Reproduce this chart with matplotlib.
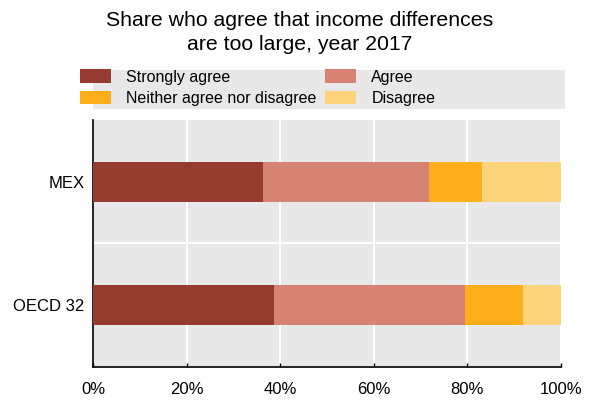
import matplotlib
matplotlib.use("Agg")
import matplotlib.pyplot as plt
from matplotlib.patches import Rectangle
import numpy as np

plt.rcParams['font.family'] = ['Liberation Sans', 'DejaVu Sans']

countries = ["MEX", "OECD 32"]
series_names = ["Strongly agree", "Agree", "Neither agree nor disagree", "Disagree"]
strongly_agree = [36.4, 38.6]
agree = [35.4, 40.8]
neither = [11.4, 12.4]
disagree = [16.8, 8.2]
colors = ["#953B2F", "#D68373", "#FCAF1A", "#FDD47C"]
xtick_vals = [0, 20, 40, 60, 80, 100]
xtick_labels = ["0%", "20%", "40%", "60%", "80%", "100%"]

fig = plt.figure(figsize=(5.93, 4.01), dpi=100)
W, H = 593, 401
ax = fig.add_axes([93 / W, 1 - 367 / H, (561 - 93) / W, (367 - 120) / H])
ax.set_facecolor("#E8E8E8")

y = np.arange(len(countries))
left = np.zeros(len(countries))
handles = []
for vals, c, name in zip([strongly_agree, agree, neither, disagree], colors, series_names):
    b = ax.barh(y, vals, left=left, height=0.325, color=c, label=name, zorder=3)
    handles.append(b)
    left = left + np.array(vals)

ax.set_xlim(0, 100)
ax.set_ylim(1.5, -0.5)
ax.set_yticks(y)
ax.set_yticklabels(countries, fontsize=12)
ax.set_yticks([0.5], minor=True)
ax.set_xticks(xtick_vals)
ax.set_xticklabels(xtick_labels, fontsize=12)
ax.tick_params(axis='y', which='both', length=0, pad=6)
ax.tick_params(axis='x', direction='in', length=3, width=1, pad=11, color='black')
ax.grid(axis='x', color='white', linewidth=1.5, zorder=1)
ax.grid(axis='y', which='minor', color='white', linewidth=1.5, zorder=1)
ax.set_axisbelow(True)
for s in ['top', 'right']:
    ax.spines[s].set_visible(False)
for s in ['left', 'bottom']:
    ax.spines[s].set_color('black')
    ax.spines[s].set_linewidth(1.2)

# legend background
fig.patches.append(Rectangle((93 / W, 1 - 109 / H), (565 - 93) / W, (109 - 70) / H,
                             transform=fig.transFigure, facecolor="#E8E8E8",
                             edgecolor='none', zorder=0))
order = [0, 2, 1, 3]
leg = fig.legend(handles=[handles[i] for i in order],
                 labels=[series_names[i] for i in order], ncol=2, frameon=False,
                 loc='upper left', bbox_to_anchor=(77 / W, 1 - 66 / H),
                 fontsize=11.5, handlelength=1.94, handleheight=0.95,
                 handletextpad=0.94, columnspacing=0.55, labelspacing=0.38,
                 borderpad=0.2, borderaxespad=0)

fig.text(0.505, 1 - 20 / H, "Share who agree that income differences", ha='center',
         va='center', fontsize=15.3)
fig.text(0.505, 1 - 45 / H, "are too large, year 2017", ha='center',
         va='center', fontsize=15.3)

fig.savefig("out.png", dpi=100)
